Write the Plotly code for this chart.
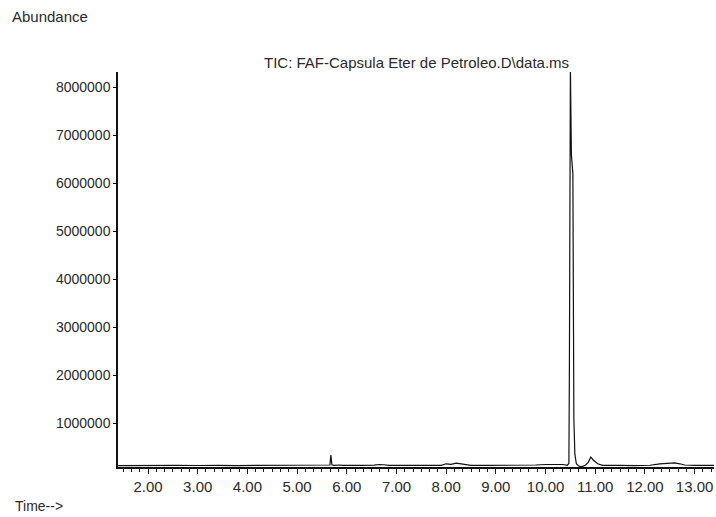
import plotly.graph_objects as go

# Retention time (min) and abundance (counts)
time_min = [1.40, 1.80, 2.20, 2.60, 3.00, 3.20, 3.40, 3.80, 4.20, 4.60, 5.00, 5.40,
            5.60, 5.66, 5.68, 5.70, 5.74, 5.80, 5.86, 5.92, 6.00, 6.30, 6.55, 6.65,
            6.75, 6.85, 7.10, 7.50, 7.90, 8.00, 8.10, 8.20, 8.30, 8.40, 8.50, 8.80,
            9.20, 9.40, 9.50, 9.60, 9.80, 10.00, 10.20, 10.35, 10.44, 10.47, 10.48,
            10.50, 10.52, 10.55, 10.57, 10.59, 10.62, 10.66, 10.72, 10.80, 10.86,
            10.91, 10.96, 11.05, 11.15, 11.30, 11.50, 11.80, 12.10, 12.30, 12.45,
            12.60, 12.70, 12.80, 13.00, 13.20, 13.40]
abundance = [110000, 115000, 112000, 118000, 114000, 120000, 116000, 113000, 117000,
             115000, 118000, 116000, 120000, 125000, 330000, 130000, 118000, 128000,
             125000, 118000, 115000, 118000, 122000, 135000, 130000, 118000, 116000,
             114000, 118000, 150000, 140000, 165000, 150000, 130000, 118000, 115000,
             114000, 118000, 125000, 120000, 125000, 135000, 140000, 135000, 120000,
             160000, 2100000, 8400000, 6600000, 6200000, 1100000, 350000, 150000,
             110000, 85000, 120000, 180000, 290000, 230000, 150000, 118000, 112000,
             116000, 112000, 120000, 150000, 165000, 170000, 150000, 125000, 118000,
             122000, 118000]

y_ticks = [1000000, 2000000, 3000000, 4000000, 5000000, 6000000, 7000000, 8000000]
x_ticks = [2, 3, 4, 5, 6, 7, 8, 9, 10, 11, 12, 13]

title_text = "TIC: FAF-Capsula Eter de Petroleo.D\\data.ms"

font_family = "Liberation Sans, Arial, sans-serif"
ink = "#2a2a2a"

fig = go.Figure()
fig.add_trace(go.Scatter(
    x=time_min, y=abundance, mode="lines",
    line=dict(color="#111111", width=1.2),
    hoverinfo="skip", showlegend=False,
))

fig.update_layout(
    width=716, height=517,
    margin=dict(l=118, r=2, t=72, b=50),
    paper_bgcolor="white", plot_bgcolor="white",
    font=dict(family=font_family, size=14, color=ink),
    showlegend=False,
)

fig.update_xaxes(
    range=[1.396, 13.39],
    tickvals=x_ticks,
    ticktext=[f"{v:.2f}" for v in x_ticks],
    ticks="outside", ticklen=5, tickwidth=1.2, tickcolor="#111111",
    minor=dict(tick0=0, dtick=1/6, ticks="outside", ticklen=3,
               tickwidth=1, tickcolor="#111111", showgrid=False),
    showline=True, linecolor="#111111", linewidth=1.5,
    showgrid=False, zeroline=False,
    tickfont=dict(family=font_family, size=15, color=ink),
)
fig.update_yaxes(
    range=[83000, 8325000],
    tickvals=y_ticks,
    ticktext=[str(v) for v in y_ticks],
    ticks="outside", ticklen=3, tickwidth=1, tickcolor="#111111",
    showline=True, linecolor="#111111", linewidth=1.5,
    showgrid=False, zeroline=False,
    tickfont=dict(family=font_family, size=14, color=ink),
)

fig.add_annotation(
    text=title_text, xref="paper", yref="paper",
    x=0.5, y=1, yshift=10, yanchor="middle", xanchor="center",
    showarrow=False, font=dict(family=font_family, size=15, color=ink),
)
fig.add_annotation(
    text="Abundance", xref="paper", yref="paper",
    x=-118/596, xshift=10, y=1, yshift=56, xanchor="left", yanchor="middle",
    showarrow=False, font=dict(family=font_family, size=15, color=ink),
)
fig.add_annotation(
    text="Time-->", xref="paper", yref="paper",
    x=-118/596, xshift=13, y=0, yshift=-39, xanchor="left", yanchor="middle",
    showarrow=False, font=dict(family=font_family, size=14, color=ink),
)

fig.write_html("out.html", config={"displayModeBar": False},
               post_script="document.body.style.margin='0';")
